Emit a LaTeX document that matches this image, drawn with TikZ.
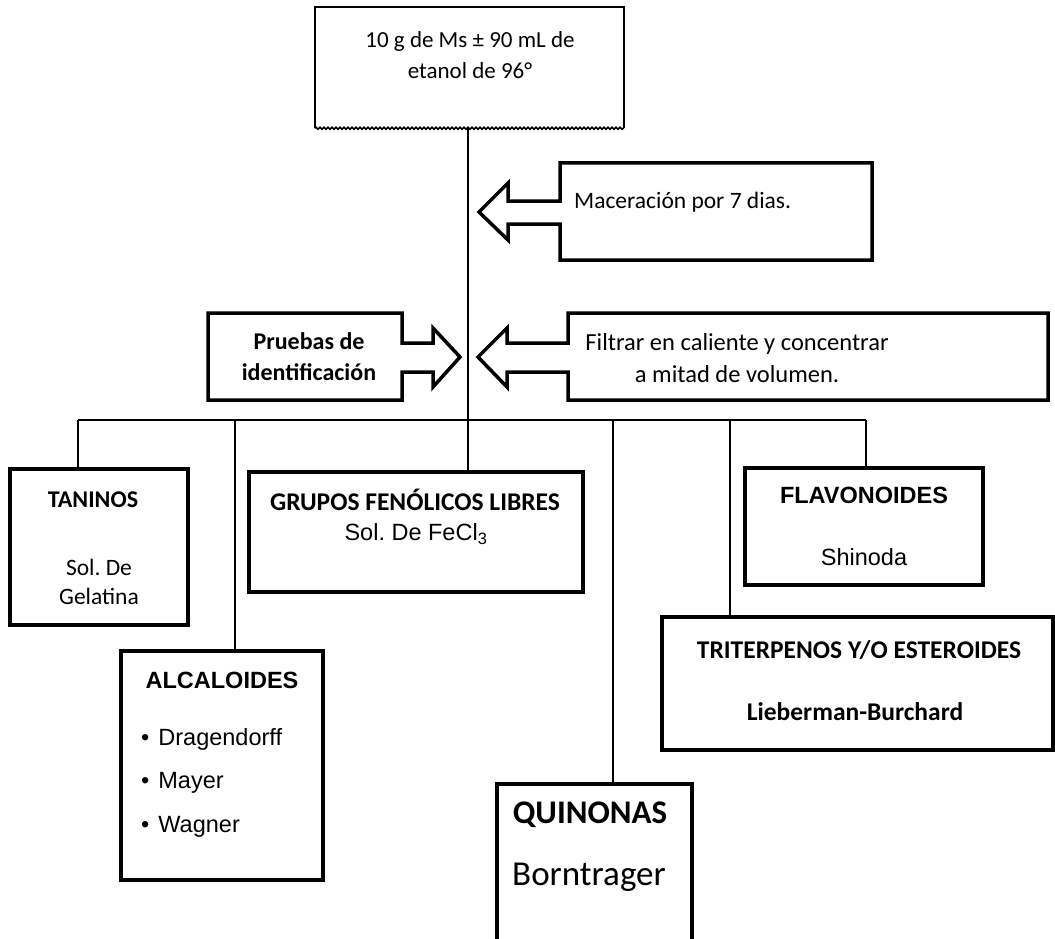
\documentclass[tikz,border=0pt]{standalone}
\usepackage{fontspec}
\setmainfont{Carlito}
\newfontfamily\arialf{Liberation Sans}
\usetikzlibrary{decorations.pathmorphing}
\frenchspacing
\tikzset{
  box/.style={draw, line width=3.5pt, inner sep=0pt},
  callout/.style={draw, line width=3.5pt, line join=miter},
  conn/.style={draw, line width=1.4pt},
  cal/.style={font=\fontsize{23.5}{31}\selectfont, inner sep=0pt, align=center},
  calb/.style={font=\bfseries\fontsize{24}{31}\selectfont, inner sep=0pt, align=center},
  ari/.style={font=\arialf\fontsize{23.5}{31}\selectfont, inner sep=0pt, align=center},
  arib/.style={font=\arialf\bfseries\fontsize{23.5}{31}\selectfont, inner sep=0pt, align=center},
}
\begin{document}
\begin{tikzpicture}[x=1pt,y=-1pt]
\useasboundingbox (0,0) rectangle (1055,939);
\clip (0,0) rectangle (1055,939);
\fill[white] (0,0) rectangle (1055,939);

% top box (document shape)
\node[inner sep=0pt, minimum width=309pt, minimum height=121pt] (top) at (469.5,67.5) {};
\draw[line width=1.6pt] (top.south west) -- (top.north west) -- (top.north east) -- (top.south east);
\draw[line width=1.6pt, decorate, decoration={snake, amplitude=1pt, segment length=4pt}] (top.south west) -- (top.south east);
\node[cal, font=\fontsize{23}{31}\selectfont] (toptxt) at (470,55) {10 g de Ms ± 90 mL de\\etanol de 96°};

% Maceracion callout
\node[cal, anchor=west] (mac) at (574,202) {Maceración por 7 dias.};
\draw[callout] (560,163) -- (872,163) -- (872,260) -- (560,260) -- (560,224) -- (508,224) -- (508,240) -- (479,212) -- (508,183) -- (508,201) -- (560,201) -- cycle;

% Filtrar callout
\node[cal, font=\fontsize{24.5}{32}\selectfont] (filt) at (737,358) {Filtrar en caliente y concentrar\\a mitad de volumen.};
\draw[callout] (568,313) -- (1048,313) -- (1048,400) -- (568,400) -- (568,372) -- (507,372) -- (507,387) -- (478,357) -- (507,328) -- (507,343) -- (568,343) -- cycle;

% Pruebas callout
\node[calb] (prue) at (309,357) {Pruebas de\\identificación};
\draw[callout] (208,313) -- (402,313) -- (402,343) -- (433,343) -- (433,328) -- (460,357) -- (433,387) -- (433,372) -- (402,372) -- (402,400) -- (208,400) -- cycle;

% result boxes
\node[box, minimum width=178pt, minimum height=156pt] (tan) at (99,547) {};
\node[calb] (tant) at (93,500) {TANINOS};
\node[cal] (tans) at (99,582) {Sol. De\\[-2pt]Gelatina};

\node[box, minimum width=334pt, minimum height=120pt] (grp) at (416,532) {};
\node[calb, font=\bfseries\fontsize{25.5}{31}\selectfont] (grpt) at (415,500) {GRUPOS FENÓLICOS LIBRES};
\node[ari] (grps) at (416,534) {Sol. De FeCl\textsubscript{3}};

\node[box, minimum width=238pt, minimum height=117pt] (flav) at (864,526.5) {};
\node[arib] (flavt) at (864,495) {FLAVONOIDES};
\node[ari] (flavs) at (864,557) {Shinoda};

\node[box, minimum width=391pt, minimum height=133pt] (trit) at (857.5,683.5) {};
\node[calb, font=\bfseries\fontsize{25.5}{31}\selectfont] (tritt) at (859,650) {TRITERPENOS Y/O ESTEROIDES};
\node[calb, font=\bfseries\fontsize{25.5}{31}\selectfont] (trits) at (855,712) {Lieberman-Burchard};

\node[box, minimum width=202pt, minimum height=229pt] (alc) at (222,765.5) {};
\node[arib] (alct) at (222,680) {ALCALOIDES};
\node[ari, anchor=west, align=left] (alc1) at (141,739) {\textbullet\hspace{9pt}Dragendorff};
\node[ari, anchor=west, align=left] (alc2) at (141,783) {\textbullet\hspace{9pt}Mayer};
\node[ari, anchor=west, align=left] (alc3) at (141,827) {\textbullet\hspace{9pt}Wagner};

\node[box, minimum width=195pt, minimum height=176pt] (quin) at (594.5,872) {};
\node[calb, font=\bfseries\fontsize{33}{36}\selectfont] (quint) at (590,815) {QUINONAS};
\node[cal, font=\fontsize{35}{38}\selectfont] (quins) at (589,877) {Borntrager};

% connectors
\coordinate (b1) at (78,420);
\coordinate (b2) at (235,420);
\coordinate (b3) at (468,420);
\coordinate (b4) at (613,420);
\coordinate (b5) at (730,420);
\coordinate (b6) at (866,420);
\draw[conn] (top.south -| b3) -- (b3 |- grp.north);
\draw[conn] (b1) -- (b6);
\draw[conn] (b1) -- (b1 |- tan.north);
\draw[conn] (b2) -- (b2 |- alc.north);
\draw[conn] (b4) -- (b4 |- quin.north);
\draw[conn] (b5) -- (b5 |- trit.north);
\draw[conn] (b6) -- (b6 |- flav.north);
\end{tikzpicture}
\end{document}
